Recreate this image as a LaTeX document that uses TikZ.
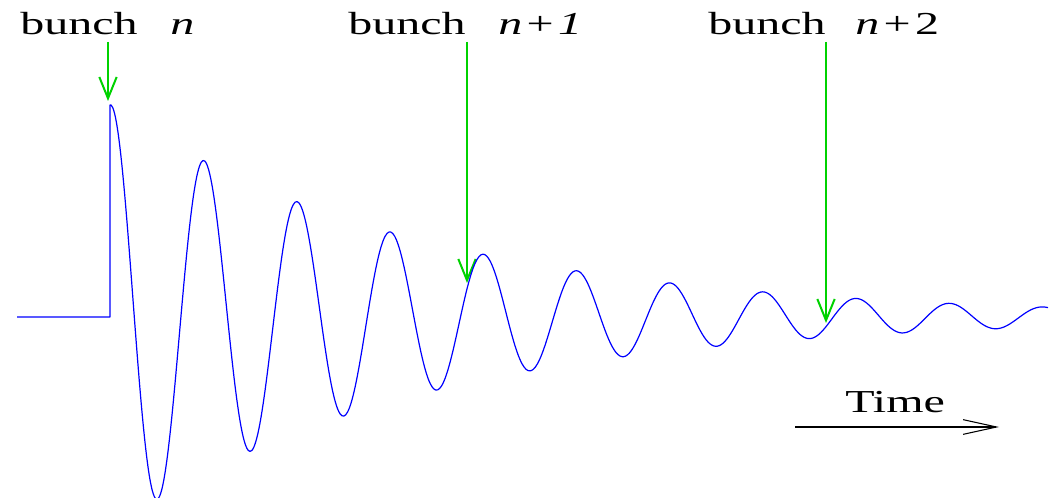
\documentclass[tikz,border=0pt]{standalone}
\usepackage{fontspec}
\setmainfont{Liberation Serif}
\usetikzlibrary{arrows.meta}
\definecolor{wakeblue}{RGB}{0,0,255}
\definecolor{bunchgreen}{RGB}{0,210,0}
\tikzset{
  lbl/.style={anchor=base west, inner sep=0pt, font=\fontsize{24pt}{28pt}\selectfont},
  bunchArrow/.style={draw=bunchgreen, line width=1.5pt, -{Straight Barb[length=16pt,width=13pt,line width=1.5pt]}},
  timeArrow/.style={draw=black, line width=0.8pt, -{Straight Barb[length=25pt,width=11pt,line width=0.8pt]}},
  wake/.style={draw=wakeblue, line width=0.9pt, line join=round}
}
\newcommand{\wide}[1]{\scalebox{1.5}[1]{#1}}
\begin{document}
\begin{tikzpicture}[x=0.75pt,y=-0.75pt]
\useasboundingbox (0,0) rectangle (1059,498);
% labels
\node[lbl] (b1) at (20,35) {\wide{bunch}};
\node[lbl] (n1) at (170,35) {\wide{\textit{n}}};
\node[lbl] (b2) at (348,35) {\wide{bunch}};
\node[lbl] (n2) at (498,35) {\wide{\textit{n}\hspace{2.2pt}+\hspace{2.2pt}\textit{1}}};
\node[lbl] (b3) at (708,35) {\wide{bunch}};
\node[lbl] (n3) at (855,35) {\wide{\textit{n}\hspace{2.2pt}+\hspace{2.2pt}2}};
\node[lbl] (time) at (845,412) {\wide{Time}};
% arrows
\coordinate (a1s) at (108,42);
\coordinate (a1e) at (108,101);
\coordinate (a2s) at (467,42);
\coordinate (a2e) at (467,283);
\coordinate (a3s) at (826,42);
\coordinate (a3e) at (826,323);
\draw[bunchArrow] (a1s) -- (a1e);
\draw[bunchArrow] (a2s) -- (a2e);
\draw[bunchArrow] (a3s) -- (a3e);
\coordinate (ts) at (795,427);
\coordinate (te) at (999,427);
\draw[timeArrow] (ts) -- (te);
% wake
\coordinate (w0) at (17,317);
\coordinate (w1) at (110,317);
\draw[wake] (w0) -- (w1) -- (110,105)
  -- plot[domain=111:1048, samples=500, smooth] (\x, {317-212*exp(-(\x-111)/306)*cos(3.8627*(\x-111))});
\end{tikzpicture}
\end{document}
